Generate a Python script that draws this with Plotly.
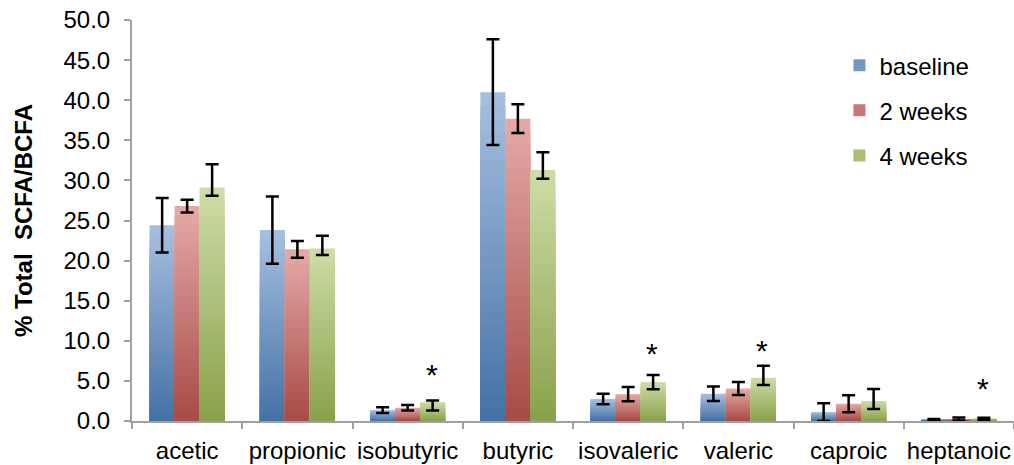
import plotly.graph_objects as go

categories = ["acetic", "propionic", "isobutyric", "butyric", "isovaleric", "valeric", "caproic", "heptanoic"]
series_names = ["baseline", "2 weeks", "4 weeks"]

baseline = [24.4, 23.8, 1.35, 41.0, 2.75, 3.4, 1.1, 0.2]
baseline_err = [3.4, 4.2, 0.35, 6.6, 0.65, 0.9, 1.1, 0.05]

weeks2 = [26.8, 21.4, 1.65, 37.7, 3.35, 4.05, 2.15, 0.25]
weeks2_err = [0.8, 1.05, 0.35, 1.8, 0.9, 0.8, 1.05, 0.2]

weeks4 = [29.1, 21.5, 2.35, 31.3, 4.85, 5.4, 2.5, 0.3]
weeks4_err_plus = [2.9, 1.6, 0.2, 2.2, 0.9, 1.5, 1.5, 0.1]
weeks4_err_minus = [1.0, 0.8, 1.05, 1.1, 0.9, 0.9, 1.0, 0.15]

# significance markers (4 weeks vs baseline)
sig_categories = ["isobutyric", "isovaleric", "valeric", "heptanoic"]
sig_marker_y = [6.3, 8.9, 9.3, 4.5]

FONT = "Arial, Liberation Sans, sans-serif"

series = [
    dict(name=series_names[0], y=baseline, plus=baseline_err, minus=baseline_err,
         top=(166, 192, 224), bottom=(68, 113, 165)),
    dict(name=series_names[1], y=weeks2, plus=weeks2_err, minus=weeks2_err,
         top=(229, 170, 167), bottom=(167, 74, 70)),
    dict(name=series_names[2], y=weeks4, plus=weeks4_err_plus, minus=weeks4_err_minus,
         top=(206, 221, 167), bottom=(137, 161, 74)),
]

K = 24
fig = go.Figure()
for s in series:
    # vertical gradient: overlay progressively shorter bars, dark at the bottom
    for k in range(K, 0, -1):
        frac = k / K
        t = (k - 0.5) / K
        c = tuple(round(s["bottom"][i] + t * (s["top"][i] - s["bottom"][i])) for i in range(3))
        fig.add_trace(go.Bar(
            x=categories, y=[v * frac for v in s["y"]],
            offsetgroup=s["name"], legendgroup=s["name"], name=s["name"],
            marker=dict(color="rgb(%d,%d,%d)" % c, line=dict(width=0)),
            showlegend=(k == K // 2), hoverinfo="skip",
        ))
    fig.add_trace(go.Bar(
        x=categories, y=s["y"], offsetgroup=s["name"], legendgroup=s["name"], name=s["name"],
        marker=dict(color="rgba(0,0,0,0)", line=dict(width=0)), showlegend=False,
        error_y=dict(type="data", symmetric=False, array=s["plus"], arrayminus=s["minus"],
                     color="black", thickness=2.5, width=6.5),
    ))

for cat, yv in zip(sig_categories, sig_marker_y):
    fig.add_annotation(x=cat, y=yv, text="*", showarrow=False, xshift=24,
                       yanchor="middle", yshift=-4,
                       font=dict(family=FONT, size=30, color="black"))

fig.update_layout(
    width=1014, height=465,
    margin=dict(l=132, r=0, t=20, b=44),
    paper_bgcolor="white", plot_bgcolor="white",
    barmode="group", bargap=0.32, bargroupgap=0,
    font=dict(family=FONT, size=24, color="black"),
    showlegend=True,
    legend=dict(x=0.8021, y=0.9425, xanchor="left", yanchor="top",
                traceorder="grouped", tracegroupgap=11,
                font=dict(family=FONT, size=24, color="black"),
                bgcolor="rgba(0,0,0,0)"),
    xaxis=dict(
        automargin=False, tickangle=0, ticklabeloverflow="allow",
        showline=True, linecolor="#a0a0a0", linewidth=2,
        ticks="outside", tickson="boundaries", ticklen=6, tickcolor="#a0a0a0", tickwidth=2,
        showgrid=False, tickfont=dict(family=FONT, size=24, color="black"),
        ticklabelstandoff=7,
    ),
    yaxis=dict(
        automargin=False, ticklabeloverflow="allow",
        range=[0, 50], dtick=5, tickformat=".1f",
        showline=True, linecolor="#a0a0a0", linewidth=2,
        ticks="outside", ticklen=6, tickcolor="#a0a0a0", tickwidth=2,
        showgrid=False, zeroline=False,
        tickfont=dict(family=FONT, size=24, color="black"),
        ticklabelstandoff=9,
        title=dict(text="<b>% Total  SCFA/BCFA</b>", standoff=24,
                   font=dict(family=FONT, size=24, color="black")),
    ),
)

# remove the page's default body margin so the figure fills the window exactly
fig.write_html("out.html", config={"displayModeBar": False},
               post_script="document.body.style.margin='0';")
